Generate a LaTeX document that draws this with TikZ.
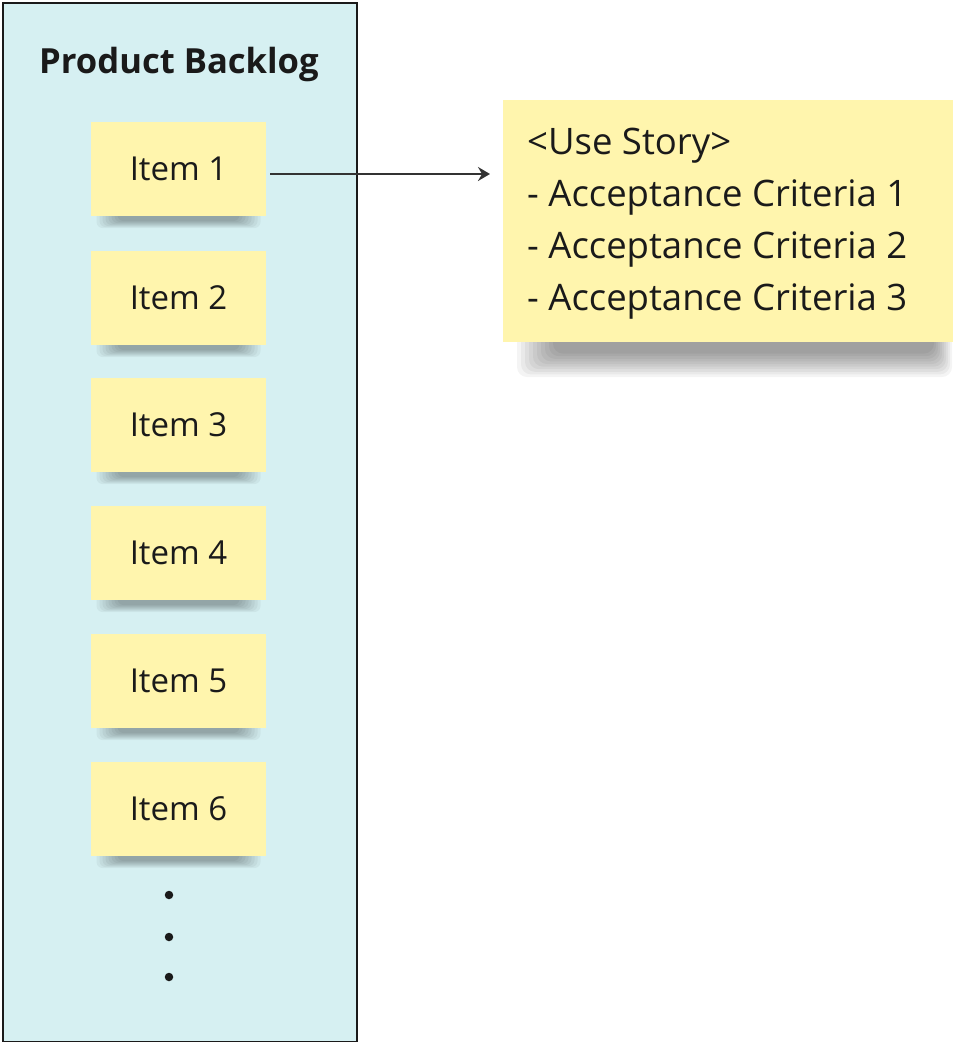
\documentclass[tikz,border=0pt]{standalone}
\usepackage{fontspec}
\setmainfont{Open Sans}
\usetikzlibrary{arrows.meta}
\definecolor{panelc}{HTML}{D6F0F2}
\definecolor{stick}{HTML}{FFF5AD}
\definecolor{ink}{HTML}{1A1A1A}
\definecolor{arrowc}{HTML}{333333}
\begin{document}
\begin{tikzpicture}[x=1pt, y=-1pt,
  itembox/.style={fill=stick, minimum width=175pt, minimum height=94pt, inner sep=0pt,
    font=\fontsize{33}{40}\selectfont, text=ink},
  bignote/.style={fill=stick, minimum width=450pt, minimum height=242pt, inner sep=0pt},
  shadelayer/.style={fill=black, fill opacity=0.045, rounded corners=6pt},
  dotc/.style={circle, fill=ink, inner sep=0pt, minimum size=8.5pt},
  conn/.style={draw=arrowc, line width=1.6pt, -{Stealth[length=12pt, width=14pt, inset=4pt]}},
  ]
\useasboundingbox (0,0) rectangle (958,1042);
\fill[white] (0,0) rectangle (958,1042);
\node[draw=ink, line width=2pt, fill=panelc, minimum width=354pt, minimum height=1039pt,
  inner sep=0pt, anchor=north west] (panel) at (1.5,1.5) {};
\node[anchor=base, font=\fontsize{34.6}{40}\selectfont\bfseries, text=ink] (title) at (179,73) {Product Backlog};
\foreach \i/\y in {1/169,2/298,3/425,4/553,5/681,6/809}{
  \coordinate (c\i) at (178.5,\y);
  \foreach \k in {0,...,7}{
    \path[shadelayer] ([shift={(-82+3*\k, 30+\k)}]c\i) rectangle ([shift={(82-3*\k, 59-\k)}]c\i);
  }
  \node[itembox] (i\i) at (c\i) {Item \i};
}
\node[dotc] (d1) at (169,895) {};
\node[dotc] (d2) at (169,937) {};
\node[dotc] (d3) at (169,977) {};
\coordinate (sc) at (503,100);
\foreach \k in {0,...,9}{
  \path[shadelayer, rounded corners=10pt] ([shift={(14+4*\k, 200+\k)}]sc) rectangle ([shift={(449-2*\k, 277-2.6*\k)}]sc);
}
\node[bignote, anchor=north west] (story) at (sc) {};
\node[anchor=north west, align=left, inner sep=0pt, text=ink, font=\fontsize{36.5}{52}\selectfont]
  (storytext) at ([xshift=24pt, yshift=-28pt]story.north west)
  {<Use Story>\\- Acceptance Criteria 1\\- Acceptance Criteria 2\\- Acceptance Criteria 3};
\draw[conn, shorten <=4pt, shorten >=13pt] ([yshift=-5pt]i1.east) -- ([yshift=-5pt]i1.east -| story.west);
\end{tikzpicture}
\end{document}
